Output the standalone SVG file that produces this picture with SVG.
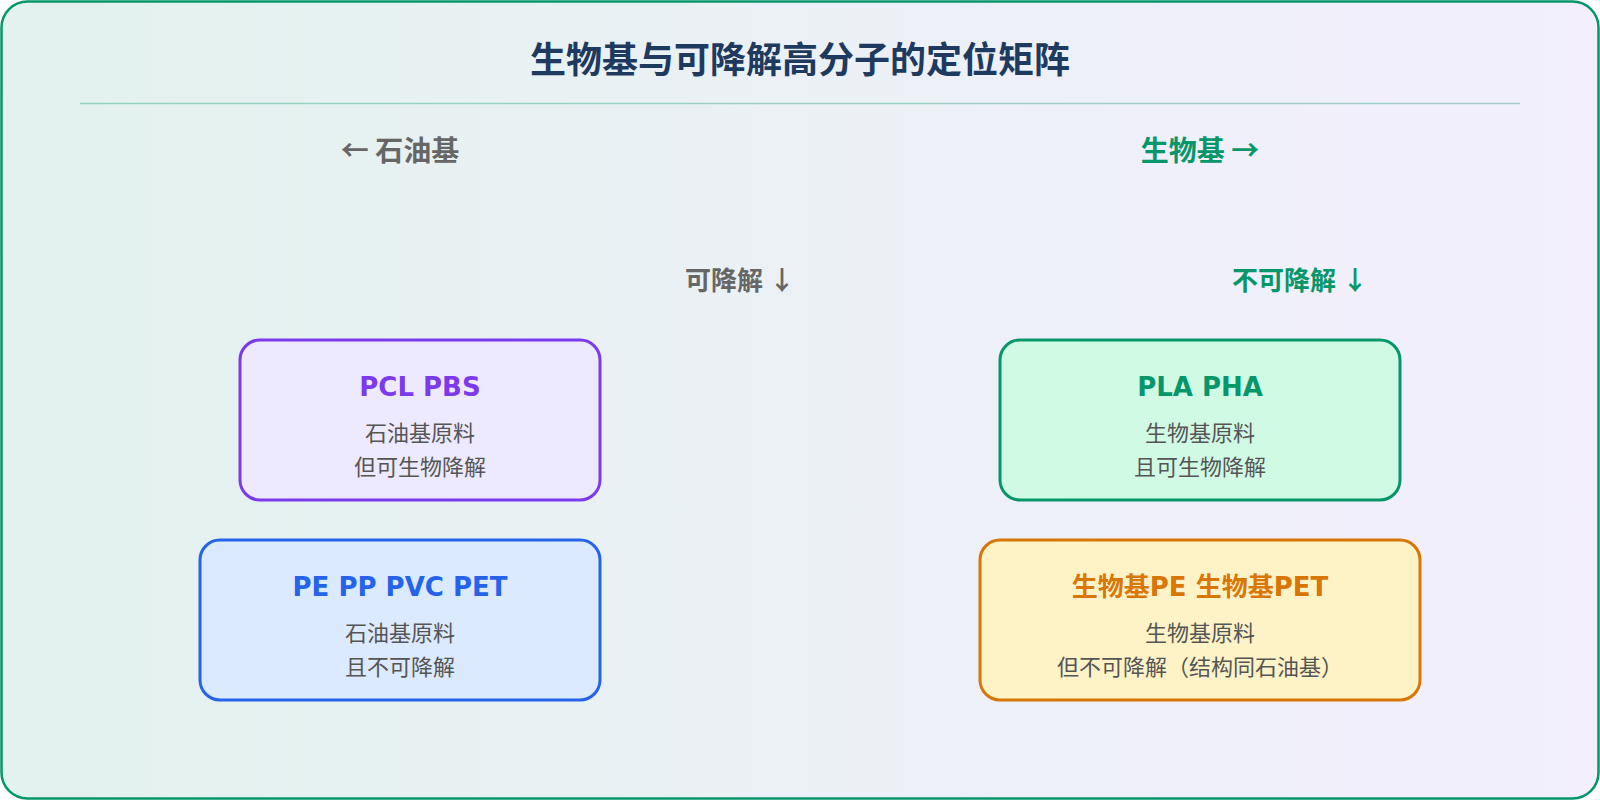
<svg xmlns="http://www.w3.org/2000/svg" width="1600" height="800" viewBox="0 0 1600 800">
<defs>
<linearGradient id="bg" x1="0" y1="0" x2="1" y2="0">
<stop offset="0" stop-color="#e3f2ee"/>
<stop offset="1" stop-color="#f3effd"/>
</linearGradient>
<style>
text{font-family:"DejaVu Sans","Noto Sans CJK SC",sans-serif;text-anchor:middle}
.title{font-family:"Noto Sans CJK SC",sans-serif;font-weight:bold;font-size:36px;fill:#1e3a5f}
.axis{font-family:"Noto Sans CJK SC",sans-serif;font-weight:bold;font-size:28px}
.axis2{font-family:"Noto Sans CJK SC",sans-serif;font-weight:bold;font-size:26px}
.gray{fill:#666666}
.green{fill:#059669}
.nt{font-weight:bold;font-size:26px}
.body{font-family:"Noto Sans CJK SC",sans-serif;font-size:22px;fill:#555555}
.box{stroke-width:3}
</style>
</defs>
<rect x="1.5" y="1.5" width="1597" height="797" rx="26" fill="url(#bg)" stroke="#059669" stroke-width="2.5"/>
<text class="title" x="800" y="73">生物基与可降解高分子的定位矩阵</text>
<line x1="80" y1="103.5" x2="1520" y2="103.5" stroke="#059669" stroke-opacity="0.35" stroke-width="1.5"/>
<text class="axis gray" x="400" y="161">← 石油基</text>
<text class="axis green" x="1200" y="161">生物基 →</text>
<text class="axis2 gray" x="740" y="290">可降解 ↓</text>
<text class="axis2 green" x="1300" y="290">不可降解 ↓</text>
<g id="connectors"></g>
<g id="pcl-pbs">
<rect class="box" x="240" y="340" width="360" height="160" rx="20" fill="#ede9fe" stroke="#7c3aed"/>
<text class="nt" x="420" y="396" fill="#7c3aed">PCL PBS</text>
<text class="body" x="420" y="441">石油基原料</text>
<text class="body" x="420" y="475">但可生物降解</text>
</g>
<g id="pe-pp-pvc-pet">
<rect class="box" x="200" y="540" width="400" height="160" rx="20" fill="#dbeafe" stroke="#2563eb"/>
<text class="nt" x="400" y="596" fill="#2563eb">PE PP PVC PET</text>
<text class="body" x="400" y="641">石油基原料</text>
<text class="body" x="400" y="675">且不可降解</text>
</g>
<g id="pla-pha">
<rect class="box" x="1000" y="340" width="400" height="160" rx="20" fill="#d1fae5" stroke="#059669"/>
<text class="nt" x="1200" y="396" fill="#059669">PLA PHA</text>
<text class="body" x="1200" y="441">生物基原料</text>
<text class="body" x="1200" y="475">且可生物降解</text>
</g>
<g id="bio-pe-pet">
<rect class="box" x="980" y="540" width="440" height="160" rx="20" fill="#fef3c7" stroke="#d97706"/>
<text class="nt" x="1200" y="596" fill="#d97706">生物基PE 生物基PET</text>
<text class="body" x="1200" y="641">生物基原料</text>
<text class="body" x="1200" y="675">但不可降解（结构同石油基）</text>
</g>
</svg>
